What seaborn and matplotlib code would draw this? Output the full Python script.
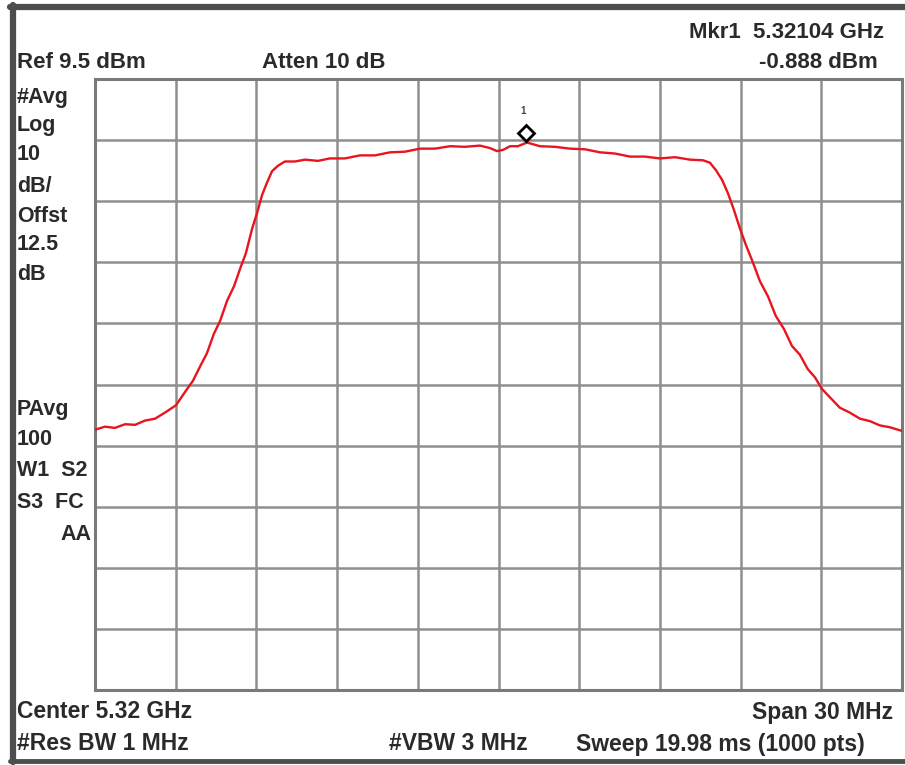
import numpy as np
import pandas as pd
import matplotlib
matplotlib.use("Agg")
import matplotlib.pyplot as plt
import matplotlib.transforms as mtransforms
from matplotlib.lines import Line2D
import seaborn as sns

# ---- data (offset from center in MHz, level in dBm) ----
freq_mhz = [-15.0, -14.63, -14.26, -13.88, -13.51, -13.14, -12.77, -12.40, -11.99, -11.65,
            -11.36, -11.10, -10.84, -10.58, -10.35, -10.09, -9.83, -9.61, -9.39, -9.16,
            -8.98, -8.79, -8.61, -8.42, -8.20, -7.94, -7.57, -7.19, -6.71, -6.27,
            -5.71, -5.15, -4.59, -4.03, -3.48, -2.92, -2.36, -1.80, -1.25, -0.69,
            -0.32, -0.06, 0.17, 0.43, 0.72, 1.06, 1.54, 2.10, 2.66, 3.21,
            3.77, 4.33, 4.89, 5.44, 6.00, 6.56, 7.12, 7.60, 7.86, 8.08,
            8.31, 8.53, 8.75, 8.97, 9.20, 9.42, 9.72, 10.02, 10.31, 10.61,
            10.91, 11.20, 11.50, 11.76, 12.02, 12.32, 12.69, 13.06, 13.44, 13.81,
            14.18, 14.55, 15.0]
level_dbm = [-47.9, -47.4, -47.6, -47.0, -47.1, -46.4, -46.1, -45.1, -43.9, -41.7,
             -39.9, -37.6, -35.4, -32.2, -30.1, -26.8, -24.4, -21.6, -19.0, -15.0,
             -12.5, -9.5, -7.5, -5.6, -4.7, -4.0, -4.0, -3.7, -3.9, -3.5,
             -3.5, -3.0, -3.0, -2.5, -2.4, -1.9, -1.9, -1.5, -1.6, -1.4,
             -1.8, -2.3, -2.1, -1.5, -1.5, -0.9, -1.5, -1.6, -1.9, -2.0,
             -2.5, -2.7, -3.2, -3.2, -3.5, -3.3, -3.7, -3.8, -4.2, -5.4,
             -7.0, -9.2, -11.9, -14.9, -17.7, -20.1, -23.6, -26.1, -29.3, -31.4,
             -34.2, -35.6, -38.0, -39.3, -41.2, -42.6, -44.3, -45.1, -46.1, -46.5,
             -47.2, -47.5, -48.1]

ref_level = 9.5
db_per_div = 10
span_mhz = 30
marker_mhz = 1.04
marker_dbm = -0.888

left_labels = ["#Avg", "Log", "10", "dB/", "Offst", "12.5", "dB"]
left_labels2 = ["PAvg", "100", "W1  S2", "S3  FC"]

df = pd.DataFrame({"freq": freq_mhz, "level": level_dbm})

W, H = 905, 765
fig = plt.figure(figsize=(W / 100, H / 100), dpi=100)
sns.set_style("white")
plt.rcParams["font.family"] = ["Liberation Sans", "DejaVu Sans"]

def fx(px):
    return px / W

def fy(py):
    return 1 - py / H

L, R, T, B = 95, 902, 79, 690
ax = fig.add_axes([fx(L), fy(B), (R - L) / W, (B - T) / H])

sns.lineplot(data=df, x="freq", y="level", ax=ax, color="#e8141e",
             linewidth=1.7, zorder=3, legend=False)

ax.set_xlim(-span_mhz / 2, span_mhz / 2)
ax.set_ylim(ref_level - 10 * db_per_div, ref_level)
ax.set_xticks(np.linspace(-span_mhz / 2, span_mhz / 2, 11))
ax.set_yticks(np.arange(ref_level - 10 * db_per_div, ref_level + 0.1, db_per_div))
ax.grid(True, color="#8f8f8f", linewidth=1.8, zorder=1)
ax.tick_params(left=False, bottom=False, labelleft=False, labelbottom=False)
ax.set_xlabel("")
ax.set_ylabel("")
for s in ax.spines.values():
    s.set_color("#7a7a7a")
    s.set_linewidth(2.2)

# marker
off = mtransforms.offset_copy(ax.transData, fig=fig, x=0, y=9, units="dots")
ax.plot([marker_mhz], [marker_dbm], marker="D", markersize=8, markerfacecolor="white",
        markeredgecolor="black", markeredgewidth=2, transform=off, zorder=5)
off2 = mtransforms.offset_copy(ax.transData, fig=fig, x=-3, y=31, units="dots")
ax.text(marker_mhz, marker_dbm, "1", transform=off2, fontsize=7, fontweight="bold",
        color="#444444", ha="center", va="center")

tc = "#2a2a2a"
kw = dict(fontsize=16, fontweight="bold", color=tc, va="center")
fig.text(fx(17), fy(63), f"Ref {ref_level} dBm", ha="left", **kw)
fig.text(fx(262), fy(63), "Atten 10 dB", ha="left", **kw)
fig.text(fx(884), fy(33), "Mkr1  5.32104 GHz", ha="right", **kw)
fig.text(fx(878), fy(63), f"{marker_dbm} dBm", ha="right", **kw)

kl = dict(kw, fontsize=15.5)
for lab, yy in zip(left_labels, [97, 126, 155, 186, 217, 245, 274]):
    fig.text(fx(17), fy(yy), lab, ha="left", **kl)
for lab, yy in zip(left_labels2, [410, 440, 471, 502]):
    fig.text(fx(17), fy(yy), lab, ha="left", **kl)
fig.text(fx(91), fy(534), "AA", ha="right", **kl)

kb = dict(fontsize=16.5, fontweight="bold", color=tc, va="center",
          family=["Liberation Sans Narrow", "Liberation Sans"])
fig.text(fx(17), fy(712), "Center 5.32 GHz", ha="left", **kb)
fig.text(fx(893), fy(712), f"Span {span_mhz} MHz", ha="right", **kb)
fig.text(fx(17), fy(744), "#Res BW 1 MHz", ha="left", **kb)
fig.text(fx(389), fy(744), "#VBW 3 MHz", ha="left", **kb)
fig.text(fx(865), fy(744), "Sweep 19.98 ms (1000 pts)", ha="right", **kb)

# window frame
fc = "#4d4d4d"
fig.add_artist(Line2D([fx(10), fx(905)], [fy(7), fy(7)], color=fc, linewidth=4.5))
fig.add_artist(Line2D([fx(13), fx(13)], [fy(5), fy(762)], color=fc, linewidth=4.5))
fig.add_artist(Line2D([fx(10), fx(905)], [fy(761), fy(761)], color=fc, linewidth=3.5))

fig.savefig("out.png", dpi=100, facecolor="white")
